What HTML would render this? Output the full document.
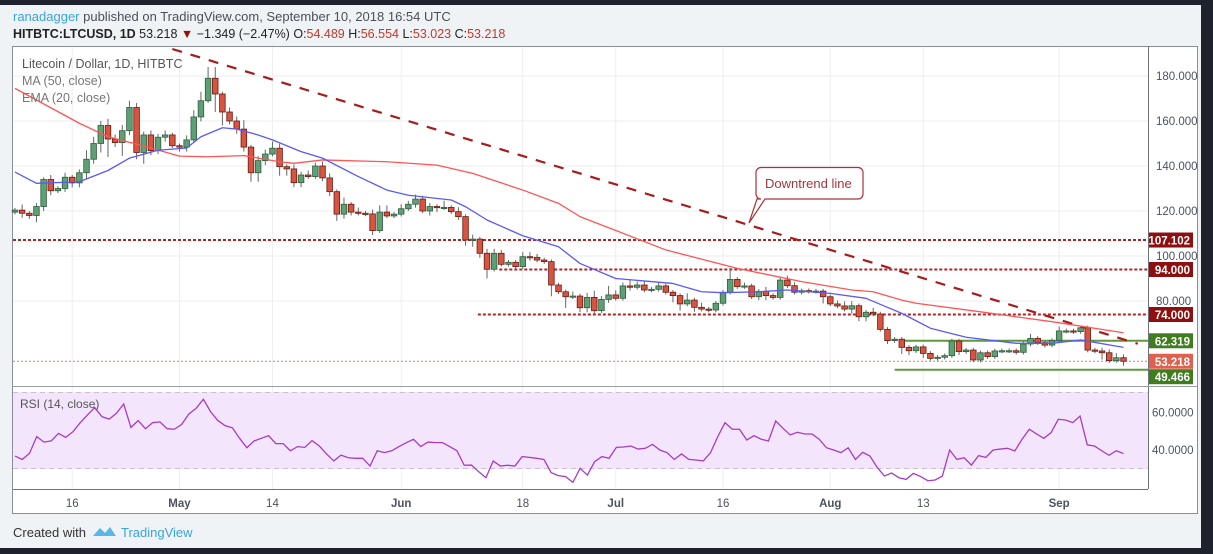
<!DOCTYPE html>
<html><head><meta charset="utf-8"><style>
html,body{margin:0;padding:0;background:#1e222d;}
svg{display:block;font-family:"Liberation Sans",sans-serif;}
</style></head><body>
<svg id="chart" width="1213" height="554" viewBox="0 0 1213 554">
<rect x="0" y="0" width="1213" height="554" fill="#1e222d"/>
<rect x="0" y="5" width="1201" height="543" fill="#f0f3f5"/>
<text x="13" y="21" font-size="13" fill="#4a4f5a"><tspan fill="#3aa3dd">ranadagger</tspan> published on TradingView.com, September 10, 2018 16:54 UTC</text>
<text x="13" y="38" font-size="12.5" fill="#222"><tspan font-weight="bold">HITBTC:LTCUSD, 1D</tspan>  53.218 <tspan fill="#9b0d0d">▼</tspan> −1.349 (−2.47%) O:<tspan fill="#c0392b">54.489</tspan> H:<tspan fill="#c0392b">56.554</tspan> L:<tspan fill="#c0392b">53.023</tspan> C:<tspan fill="#c0392b">53.218</tspan></text>
<rect x="12.5" y="46.5" width="1185" height="467" fill="#fff" stroke="#8a8e99"/>
<g id="grid"></g>
<rect x="13" y="392" width="1135" height="77" fill="#f3e6fc"/>
<line x1="13" y1="392.5" x2="1148" y2="392.5" stroke="#c9c0d0" stroke-dasharray="5,4"/>
<line x1="13" y1="468.5" x2="1148" y2="468.5" stroke="#c9c0d0" stroke-dasharray="5,4"/>
<g id="levels"></g>
<g id="candles"></g>
<g id="lines"></g>
<line x1="1148.5" y1="46" x2="1148.5" y2="489" stroke="#6f7380"/>
<line x1="13" y1="489.5" x2="1148" y2="489.5" stroke="#6f7380"/>
<line x1="13" y1="386.5" x2="1197" y2="386.5" stroke="#9a9ea8"/>
<g id="axes"></g>
<text x="22" y="68" font-size="12.5" fill="#555">Litecoin / Dollar, 1D, HITBTC</text>
<text x="22" y="85" font-size="12.5" fill="#777">MA (50, close)</text>
<text x="22" y="102" font-size="12.5" fill="#777">EMA (20, close)</text>
<text x="20" y="408" font-size="12" fill="#555">RSI (14, close)</text>
<g>
<path d="M761,167.5 H858 a5,5 0 0 1 5,5 V194 a5,5 0 0 1 -5,5 H765 L749,223 L757,199 H761 a5,5 0 0 1 -5,-5 V172.5 a5,5 0 0 1 5,-5 Z" fill="#fff" stroke="#a8343a" stroke-width="1.2"/>
<text x="765" y="188" font-size="13" fill="#a8343a">Downtrend line</text>
</g>
<text x="13" y="537" font-size="13" fill="#333">Created with</text>
<g><path d="M93,536 l7,-8 l5,5 l5,-6 l6,9 z" fill="#5bb5e5"/>
<text x="121" y="537" font-size="13" fill="#3aa3dd">TradingView</text></g>
</svg>
<script>
const closes=[120.4,119,118,122,134,129,130,135,132.5,137,143,150,158,152,150.4,155.7,166,146,153.8,146.8,152.8,153.8,149,148.4,151.6,161.8,169,179,172,164,160,156.4,148.4,137,142.4,145.3,147.9,139.7,138.7,132.6,
136,135.3,140,134.7,128.6,118.6,123,119.5,119,118.7,111.3,119.5,117.8,118.6,121,123,125.3,120,122,121.5,121.6,119.7,117.5,107.1,107.5,101.2,94.1,101.2,96.3,97.2,95.3,99.7,99.4,98.2,97.5,87.1,84.1,81.9,82.2,77,
81.6,75.7,80.7,82.7,81.2,86.7,86.1,87.1,84.9,85.2,86.7,83.9,82.4,78.7,80.4,77.2,76.4,76,79,83.9,89.6,86.4,86.7,81.9,84.3,82.4,81.6,89.3,86.8,83.9,84.6,84.3,84.4,81.9,78.7,77.8,76.4,77.9,73,75,74.2,67.4,62.4,63,
59.4,57.9,59.6,56.7,54.5,55,55.7,62.2,57.5,58.2,53.8,57,55.3,57.8,57.9,57.9,57.2,60.9,63.4,61.5,60.4,62.4,66.7,66.7,66.4,68.1,58.2,57.8,57,53.5,54.8,53.218];
const upWick=[1,2.5,1,1.5,1,2,1,2,1,1.5,4,3,2,3,2,2.5,3,2,1.5,2,1.5,2,1,1,2,3,4,5,5,1,2,2,4,1,2,2,3,2,1,2,
1.5,2,1.5,2,2,1,3,1,2,1,2,3,3,1,2,1.5,2,1.5,1.5,1,3,1,2,1,2,1,2,2,1.5,1,1,2,2,1.5,1,1,1,1,2,1,
2,3,1.5,4,2,1.5,3,1.5,2,1,1.5,1,1,1,3,1,2,1,1,1,5,1,1.5,1,1,2,1,1,2,1.5,1,1,1,1,1,1.5,2,2,1,1,2,1,1,1,
1,1,1,1,1,1,1,1,1,1,1,1,1,1,1,1,1,1,2,1,1,1,2,1,1,1,1,1,1.5,1.5,2,1.5];
const dnWick=[1,2,1.5,3,2,2,1,1.5,2,2,3,2,4,8,2,6,2,3,5,2,1.5,2,1,2,2,1,2,1,8,6,1.5,2,2,4,4,2,1,4,3,2,
2,1,1,1.5,2,3,2,1.5,1,1,2,1,1,1,1,1,1.5,1,2,2,1,1,1.5,2.5,3,2,4,1,1,1,1.5,1,1.5,1,1,5,1,5,1,2,
2,1.5,1,1.5,1,1,1.5,1,1,1,1,1,3,3,1,2,1,1,1,1,1,1,1,1,1.5,2,1,1,1,1,1,1,1,3,1,1,1,2,2,2,1,1,1.5,1,
3,2,1,2,1,1,1,1,1.5,1,1,1,1,1,1,1,1,1,1,1,1,1,1,1,1,1,1,1,3,1,1,2,1,1];
const emaIdx=[0,3,9,13,16,20,24,26,29,31,34,36,40,43,48,52,55,61,63,66,71,76,79,84,92,96,99,104,108,114,119,124,128,133,140,145,149,155];
const emaVal=[137.3,132.3,133,138,143.5,147,148,153,157,156.4,153.8,151.6,146.4,143.5,135.3,129.3,127,124.9,121.9,116,109,104.1,96.7,90,87.8,84.1,83.7,84.1,84.9,83.4,81.2,74.5,67.9,63.9,61.2,61.2,62.7,59.4];
const maIdx=[0,9,13,18,23,27,32,37,39,43,52,59,64,71,76,79,91,101,110,117,120,124,126,135,145,155];
const maVal=[174.5,159,153,148.9,144.4,144.1,144.6,141.9,141.2,142.7,141.9,140.4,136.7,129.3,123.4,117.5,102.7,94.5,88.6,84.9,84.1,80.4,79,75.2,70.8,65.9];
const rsi=[36.8,35.0,38.2,47.1,44.2,44.8,48.8,46.7,49.7,54.5,58.6,62.5,57.7,56.4,59.5,64.4,52.0,55.6,51.3,54.5,54.9,51.3,51.0,53.6,59.1,62.1,66.9,60.3,55.6,52.9,51.8,46.2,41.2,44.8,46.2,47.6,43.4,43.4,39.6,41.8,41.4,45.0,42.1,37.9,34.2,37.3,35.9,35.6,35.6,31.5,39.6,38.6,39.6,41.8,43.9,45.7,41.8,44.2,43.9,43.9,41.8,39.6,31.9,32.0,28.5,25.3,34.2,31.5,31.9,31.5,36.5,36.1,35.6,35.0,28.0,26.4,
25.9,22.8,30.3,26.7,33.8,36.5,35.6,41.4,41.6,42.1,40.5,40.9,43.0,40.0,38.6,35.0,37.9,35.0,34.7,34.2,38.6,47.1,54.5,51.0,51.0,45.3,47.6,45.7,44.8,55.4,51.5,48.0,49.4,48.5,48.5,45.7,41.2,40.0,38.6,41.2,35.0,38.8,36.8,30.8,26.2,27.8,25.3,24.4,27.6,25.9,23.7,24.1,26.2,40.0,35.0,35.9,32.0,37.0,36.1,40.0,40.5,40.9,39.5,45.7,51.0,48.5,46.2,49.2,56.3,55.9,54.5,58.0,42.7,42.1,39.6,37.2,39.6,38.1];
const priceTicks=[180,160,140,120,100,80];
const rsiTicks=[60,40];
const dateLabels=["16","May","14","Jun","18","Jul","16","Aug","13","Sep"];
const dateIdx=[8,23,36,54,71,84,99,114,127,146];
const levelVals=[107.102,94,74];
const levelStart=[0,68,65];
const supportVals=[62.319,49.466];
const supportStart=[124,123];
const trendStart=[22,192];
const trendEnd=[157,61];

const NS="http://www.w3.org/2000/svg";
const X0=15,X1=1123.5,N=closes.length;
function xs(i){return X0+i*(X1-X0)/(N-1);}
function ys(v){return 256+(100-v)*2.25;}
function yr(v){return 450-(v-40)*1.885;}
function xr(i){return X0+i*(X1-X0)/(rsi.length-1);}
function mk(tag,attrs,parent){const e=document.createElementNS(NS,tag);for(const k in attrs)e.setAttribute(k,attrs[k]);parent.appendChild(e);return e;}
const grid=document.getElementById('grid'),lv=document.getElementById('levels'),cg=document.getElementById('candles'),lg=document.getElementById('lines'),ax=document.getElementById('axes');

priceTicks.forEach(v=>{const l=mk('line',{x1:13,x2:1148,y1:ys(v),y2:ys(v),stroke:'#eceef1'},grid);


const t=mk('text',{x:1156,y:ys(v)+4,'font-size':11.5,fill:'#4c525e'},ax);t.textContent=v.toFixed(3);

});
rsiTicks.forEach(v=>{const l=mk('line',{x1:13,x2:1148,y1:yr(v),y2:yr(v),stroke:'#e2d8ea'},grid);


const t=mk('text',{x:1152,y:yr(v)+4,'font-size':11.5,fill:'#4c525e'},ax);t.textContent=v.toFixed(4);

});
dateIdx.forEach((d,k)=>{const x=xs(d);const l=mk('line',{x1:x,x2:x,y1:47,y2:489,stroke:'#eceef1'},grid);


const t=mk('text',{x:x,y:507,'font-size':11.5,fill:'#4c525e','text-anchor':'middle','font-weight':(isNaN(+dateLabels[k])?'bold':'normal')},ax);t.textContent=dateLabels[k];

});

levelVals.forEach((v,k)=>{const l=mk('line',{x1:xs(levelStart[k])-2,x2:1148,y1:ys(v),y2:ys(v),stroke:'#b22222','stroke-width':2,'stroke-dasharray':'3,2'},lv);

});
supportVals.forEach((v,k)=>{const l=mk('line',{x1:xs(supportStart[k]),x2:1148,y1:ys(v),y2:ys(v),stroke:'#5c9a3a','stroke-width':2},lv);

});
const pl=mk('line',{x1:13,x2:1148,y1:ys(closes[N-1]),y2:ys(closes[N-1]),stroke:'#e07a6a','stroke-dasharray':'2,2'},lv);


const tl=mk('line',{x1:xs(trendStart[0]),y1:ys(trendStart[1]),x2:xs(trendEnd[0]),y2:ys(trendEnd[1]),stroke:'#a61c1c','stroke-width':2.2,'stroke-dasharray':'10,9'},lv);



for(let i=0;i<N;i++){const o=i?closes[i-1]:119.5,c=closes[i];const up=c>=o;const x=xs(i);
const hi=Math.max(o,c)+upWick[i],lo=Math.min(o,c)-dnWick[i];
const w=mk('line',{x1:x,x2:x,y1:ys(hi),y2:ys(lo),stroke:'#666','stroke-width':1},cg);


const top=ys(Math.max(o,c)),h=Math.max(1.2,ys(Math.min(o,c))-top);
const r=mk('rect',{x:x-2.8,y:top,width:5.6,height:h,fill:up?'#5e9f73':'#d65440',stroke:up?'#2f5e3f':'#6a1a12','stroke-width':0.8},cg);

}

function poly(ix,vals,col,name){const p=mk('polyline',{points:ix.map((d,k)=>xs(d)+','+ys(vals[k])).join(' '),fill:'none',stroke:col,'stroke-width':1.3,'stroke-linejoin':'round'},lg);

}
poly(maIdx,maVal,'#ff5555','ma50-line');
poly(emaIdx,emaVal,'#5a5af5','ema20-line');
const rp=mk('polyline',{points:rsi.map((v,k)=>xr(k)+','+yr(v)).join(' '),fill:'none',stroke:'#a83bc4','stroke-width':1.3},lg);



const tags=[[107.102,'#8e0f0f',0],[94,'#8e0f0f',0],[74,'#8e0f0f',0],[62.319,'#3f7d1f',0],[53.218,'#e0604d',0],[49.466,'#3f7d1f',7]];
tags.forEach(t=>{const y=ys(t[0])+t[2];const r=mk('rect',{x:1149,y:y-7.5,width:44,height:15,fill:t[1]},ax);


const tx=mk('text',{x:1190,y:y+4.5,'font-size':11.5,fill:'#fff','text-anchor':'end','font-weight':'bold'},ax);tx.textContent=t[0].toFixed(3);

});
</script>
</body></html>
